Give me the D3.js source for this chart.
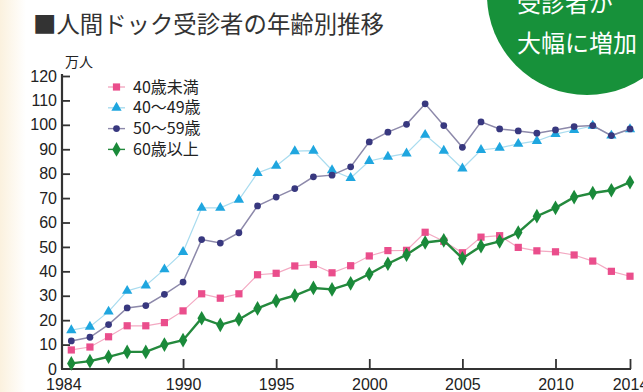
<!DOCTYPE html>
<html>
<head>
<meta charset="utf-8">
<script src="https://cdn.jsdelivr.net/npm/d3@7"></script>
<style>
  html, body { margin: 0; padding: 0; background: #fff; }
  svg { display: block; }
  .axis text { font-family: "Liberation Sans", "DejaVu Sans", sans-serif; font-size: 16px; fill: #222; }
  .jp { font-family: "Noto Sans CJK JP", "Noto Sans", sans-serif; }
</style>
</head>
<body>
<svg id="chart" width="643" height="392"></svg>
<script>
// 受診者数（万人）, 1984–2014
const years = [1984, 1985, 1986, 1987, 1988, 1989, 1990, 1991, 1992, 1993, 1994, 1995, 1996, 1997, 1998, 1999,
               2000, 2001, 2002, 2003, 2004, 2005, 2006, 2007, 2008, 2009, 2010, 2011, 2012, 2013, 2014];
const under40 = [7.8, 9, 13.2, 17.7, 17.7, 19, 23.8, 30.8, 29, 30.8, 38.6, 39.2, 42.2, 42.8, 39.4, 42.3,
                 46.3, 48.5, 48.6, 56, 52.3, 47.6, 54, 54.6, 49.8, 48.4, 48, 46.7, 44.2, 40, 38];
const age40s = [15.9, 17.3, 23.5, 32, 34.2, 40.8, 47.9, 66, 66, 69.3, 80.3, 83.2, 89.2, 89.4, 81.4, 78.2,
                85.2, 86.9, 88.3, 95.9, 89.4, 82.1, 89.7, 90.6, 92.2, 93.4, 96.2, 97.9, 99.6, 95.6, 98.2];
const age50s = [11.5, 13, 18.2, 25, 26, 30.6, 35.6, 53, 51.6, 55.8, 66.8, 70.4, 73.9, 78.7, 79.4, 82.8,
                93, 97, 100.2, 108.6, 99.7, 90.8, 101.2, 98.3, 97.5, 96.6, 97.9, 99.3, 99.7, 95.6, 98.3];
const age60plus = [2.3, 3.2, 5, 7, 7, 10, 11.8, 20.8, 18.1, 20.3, 24.8, 27.9, 30.1, 33.2, 32.6, 35.1,
                   38.9, 43.1, 46.8, 51.8, 52.7, 45.3, 50.3, 52.3, 55.9, 62.6, 66, 70.4, 72.1, 73.2, 76.5];
const seriesNames = ["40歳未満", "40〜49歳", "50〜59歳", "60歳以上"];
const yTicks = [0, 10, 20, 30, 40, 50, 60, 70, 80, 90, 100, 110, 120];
const xTicks = [1984, 1990, 1995, 2000, 2005, 2010, 2014];

const svg = d3.select("#chart");

// soft cream edge on the left
const defs = svg.append("defs");
const grad = defs.append("linearGradient").attr("id", "edge").attr("x1", 0).attr("x2", 1);
grad.append("stop").attr("offset", 0).attr("stop-color", "#fbf1de");
grad.append("stop").attr("offset", 1).attr("stop-color", "#ffffff");
svg.append("rect").attr("width", 643).attr("height", 392).attr("fill", "#fff");
svg.append("rect").attr("width", 26).attr("height", 392).attr("fill", "url(#edge)");

const x = d3.scaleLinear().domain([1983.5, 2014]).range([62, 630]);
const y = d3.scaleLinear().domain([0, 120]).range([369, 76]);

// callout circle in the top-right corner
svg.append("circle").attr("cx", 587).attr("cy", -5).attr("r", 100).attr("fill", "#17913a");
svg.append("text").attr("class", "jp").attr("x", 517).attr("y", 12)
  .attr("font-size", 24).attr("fill", "#fff").text("受診者が");
svg.append("text").attr("class", "jp").attr("x", 517).attr("y", 52)
  .attr("font-size", 24).attr("fill", "#fff").text("大幅に増加");

// title and unit
svg.append("text").attr("class", "jp").attr("x", 33).attr("y", 33)
  .attr("font-size", 23.4).attr("fill", "#333").text("■人間ドック受診者の年齢別推移");
svg.append("text").attr("class", "jp").attr("x", 65).attr("y", 67)
  .attr("font-size", 14).attr("fill", "#222").text("万人");

// axes
const yAxis = d3.axisLeft(y).tickValues(yTicks).tickSize(-8).tickPadding(5).tickFormat(d3.format("d"));
const gy = svg.append("g").attr("class", "axis").attr("transform", "translate(62,0)").call(yAxis);
gy.select(".domain").attr("stroke", "#333").attr("stroke-width", 2.2).attr("d", `M0,${y(120) - 2}V${y(0)}`);
gy.selectAll(".tick line").attr("stroke", "#333").attr("stroke-width", 1.8);
gy.selectAll(".tick").filter(d => d === 0).select("line").remove();

const xAxis = d3.axisBottom(x).tickValues(xTicks).tickSize(-10).tickPadding(10).tickFormat(d3.format("d"));
const gx = svg.append("g").attr("class", "axis").attr("transform", `translate(0,${y(0)})`).call(xAxis);
gx.select(".domain").attr("stroke", "#333").attr("stroke-width", 2.2).attr("d", `M61,0H${x(2014) + 1}`);
gx.selectAll(".tick line").attr("stroke", "#333").attr("stroke-width", 1.8);
gx.selectAll(".tick").filter(d => d === 1984).select("line").remove();
gx.selectAll(".tick").filter(d => d === 1984).select("text").attr("dx", -8);

// series
const symbolSquare = d3.symbol().type(d3.symbolSquare).size(52);
const symbolTri = d3.symbol().type(d3.symbolTriangle).size(46);
const symbolCircle = d3.symbol().type(d3.symbolCircle).size(36);
const symbolDiamond = d3.symbol().type(d3.symbolDiamond).size(62);

const series = [
  { name: seriesNames[1], values: age40s, line: "#a9dcef", lw: 1.2, marker: "#1fa6df", sym: symbolTri },
  { name: seriesNames[2], values: age50s, line: "#8d89aa", lw: 1.5, marker: "#38387f", sym: symbolCircle },
  { name: seriesNames[0], values: under40, line: "#f3a9c2", lw: 1.2, marker: "#ea4e8c", sym: symbolSquare },
  { name: seriesNames[3], values: age60plus, line: "#24893d", lw: 2.4, marker: "#1a8a3a", sym: symbolDiamond }
];

const line = d3.line().x((d, i) => x(years[i])).y(d => y(d));

series.forEach(s => {
  const g = svg.append("g");
  g.append("path").datum(s.values).attr("d", line)
    .attr("fill", "none").attr("stroke", s.line).attr("stroke-width", s.lw);
  g.selectAll("path.m").data(s.values).join("path").attr("class", "m")
    .attr("d", s.sym)
    .attr("transform", (d, i) => `translate(${x(years[i])},${y(d)})`)
    .attr("fill", s.marker);
});

// legend
const legendOrder = [
  { name: seriesNames[0], line: "#f3a9c2", marker: "#ea4e8c", sym: symbolSquare },
  { name: seriesNames[1], line: "#a9dcef", marker: "#1fa6df", sym: symbolTri },
  { name: seriesNames[2], line: "#8d89aa", marker: "#38387f", sym: symbolCircle },
  { name: seriesNames[3], line: "#24893d", marker: "#1a8a3a", sym: symbolDiamond }
];
const lg = svg.append("g").attr("transform", "translate(108,87)");
legendOrder.forEach((s, i) => {
  const row = lg.append("g").attr("transform", `translate(0,${i * 20.8})`);
  row.append("line").attr("x1", 0).attr("x2", 17).attr("stroke", s.line).attr("stroke-width", 1.4);
  row.append("path").attr("d", s.sym).attr("transform", "translate(8.5,0)").attr("fill", s.marker);
  row.append("text").attr("class", "jp").attr("x", 25).attr("y", 0).attr("dy", "0.35em")
    .attr("font-size", 16).attr("fill", "#222").text(s.name);
});
</script>
</body>
</html>
